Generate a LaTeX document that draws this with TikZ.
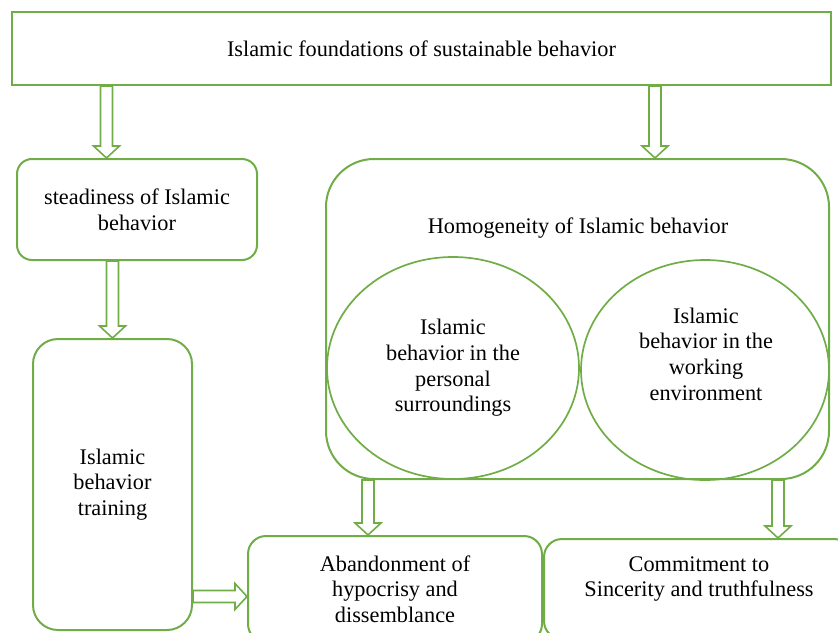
\documentclass[tikz,border=0pt]{standalone}
\usepackage{fontspec}
\setmainfont{Liberation Serif}
\usetikzlibrary{shapes.geometric,calc}
\definecolor{bgreen}{RGB}{112,173,71}
\tikzset{
  txt/.style={font=\fontsize{22.3}{25.7}\selectfont, align=center, inner sep=0pt},
  box/.style={txt, draw=bgreen, line width=2pt},
  rbox/.style={box, rounded corners=15pt},
  oval/.style={ellipse, draw=bgreen, line width=1.7pt, inner sep=0pt},
  barrow/.style={draw=bgreen, line width=1.6pt, fill=white, line join=miter,
    to path={
      ($(\tikztostart)!6pt!-90:(\tikztotarget)$)
      -- ($(\tikztotarget)!12pt!(\tikztostart)!6pt!90:(\tikztostart)$)
      -- ($(\tikztotarget)!12pt!(\tikztostart)!13pt!90:(\tikztostart)$)
      -- (\tikztotarget)
      -- ($(\tikztotarget)!12pt!(\tikztostart)!13pt!-90:(\tikztostart)$)
      -- ($(\tikztotarget)!12pt!(\tikztostart)!6pt!-90:(\tikztostart)$)
      -- ($(\tikztostart)!6pt!90:(\tikztotarget)$) -- cycle}}
}
\begin{document}
\begin{tikzpicture}[x=1pt,y=-1pt]
\clip (0,0) rectangle (838,632);

\node[box, minimum width=819, minimum height=73] (found) at (421.5,48.5) {Islamic foundations of sustainable behavior};
\node[rbox, minimum width=240, minimum height=101] (steady) at (137,209.5) {steadiness of Islamic\\behavior};
\node[rbox, rounded corners=25pt, minimum width=159, minimum height=291] (train) at (112.5,484.5) {Islamic\\behavior\\training};

\node[rbox, rounded corners=48pt, minimum width=503, minimum height=320] (homog) at (577.5,319) {};
\node[txt] (homogtxt) at (578,228) {Homogeneity of Islamic behavior};
\node[oval, minimum width=252, minimum height=222] (pers) at (453,368) {};
\node[txt] (perstxt) at (453,368) {Islamic\\behavior in the\\personal\\surroundings};
\node[oval, minimum width=248, minimum height=220] (work) at (705,370) {};
\node[txt] (worktxt) at (706,354) {Islamic\\behavior in the\\working\\environment};

\node[rbox, rounded corners=18pt, minimum width=294, minimum height=106] (aband) at (395,589) {Abandonment of\\hypocrisy and\\dissemblance};
\node[rbox, rounded corners=18pt, minimum width=308, minimum height=100] (commit) at (698,589) {};
\node[txt] (committxt) at (699,579) {Commitment to\\Sincerity and truthfulness};

\coordinate (c1) at (106.5,0);
\coordinate (c2) at (655,0);
\coordinate (c3) at (112.5,0);
\coordinate (c4) at (368,0);
\coordinate (c5) at (778,0);
\coordinate (c6) at (0,596.5);
\draw[barrow] (found.south -| c1) to (steady.north -| c1);
\draw[barrow] (found.south -| c2) to (homog.north -| c2);
\draw[barrow] (steady.south -| c3) to (train.north -| c3);
\draw[barrow] (homog.south -| c4) to (aband.north -| c4);
\draw[barrow] (homog.south -| c5) to (commit.north -| c5);
\draw[barrow] (train.east |- c6) to (aband.west |- c6);
\end{tikzpicture}
\end{document}
